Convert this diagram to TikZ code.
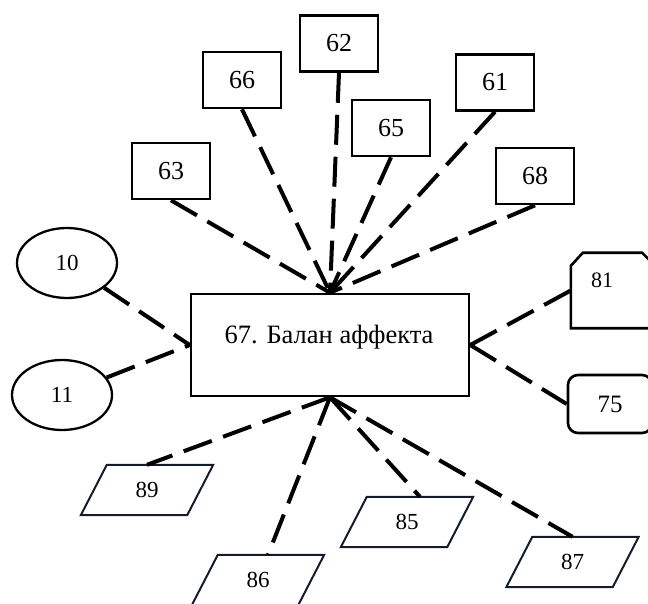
\documentclass[tikz,border=0pt]{standalone}
\usepackage{fontspec}
\setmainfont{Liberation Serif}
\usetikzlibrary{shapes.geometric}
\definecolor{navy}{HTML}{141C2C}
\newcommand\drawpara[1]{\draw[paraline] ([xshift=13pt]#1.north west) -- ([xshift=13pt]#1.north east) -- ([xshift=-13pt]#1.south east) -- ([xshift=-13pt]#1.south west) -- cycle;}
\begin{document}
\begin{tikzpicture}[x=1pt,y=-1pt,
  box/.style={draw, line width=2.6pt, minimum width=78pt, minimum height=56pt, inner sep=0pt, font=\fontsize{26}{26}\selectfont},
  oval/.style={draw, ellipse, line width=2.3pt, minimum width=100pt, minimum height=70pt, inner sep=0pt, font=\fontsize{23}{23}\selectfont},
  paranode/.style={minimum width=106pt, minimum height=50pt, inner sep=0pt, font=\fontsize{23}{23}\selectfont},
  link/.style={line width=4pt, dash pattern=on 30pt off 12pt},
  paraline/.style={line width=2pt, draw=navy, line join=miter}
]
\useasboundingbox (0,0) rectangle (648,604);

% central box
\node[draw, line width=2.6pt, minimum width=278pt, minimum height=102pt, inner sep=0pt] (c) at (330,345) {};
\node[anchor=base, font=\fontsize{26.5}{26.5}\selectfont] (ct) at (329,343) {67. Балан аффекта};

% top boxes
\node[box] (b62) at (339,43.5) {62};
\node[box] (b66) at (242,80) {66};
\node[box] (b63) at (171,171) {63};
\node[box] (b65) at (391,128) {65};
\node[box] (b61) at (495,82.5) {61};
\node[box] (b68) at (535,176) {68};

% ellipses
\node[oval] (e10) at (67,263) {10};
\node[oval] (e11) at (62,395) {11};

% right shapes
\node[minimum width=81pt, minimum height=75pt, inner sep=0pt] (n81) at (611.5,290.5) {};
\draw[line width=2.6pt, line join=miter] (n81.south west) -- ([yshift=-13pt]n81.north west) -- ([xshift=12pt]n81.north west) -- ([xshift=-10pt]n81.north east) -- ([yshift=-10pt]n81.north east) -- (n81.south east) -- cycle;
\node[font=\fontsize{22}{22}\selectfont] (t81) at (602,280.5) {81};
\node[draw, rounded corners=10pt, line width=2.6pt, minimum width=84pt, minimum height=58pt, inner sep=0pt, font=\fontsize{25}{25}\selectfont] (n75) at (610,404) {75};

% parallelograms
\node[paranode] (p89) at (147,490) {89};
\node[paranode] (p86) at (258,580) {86};
\node[paranode] (p85) at (407,522) {85};
\node[paranode] (p87) at (572.5,562) {87};
\drawpara{p89}
\drawpara{p86}
\drawpara{p85}
\drawpara{p87}

% connectors
\draw[link] (b63.south) -- (c.north);
\draw[link] (b66.south) -- (c.north);
\draw[link] (b62.south) -- (c.north);
\draw[link] (b65.south) -- (c.north);
\draw[link] (b61.south) -- (c.north);
\draw[link] (b68.south) -- (c.north);
\draw[link] (e10) -- (c.west);
\draw[link] (e11) -- (c.west);
\draw[link] (c.east) -- (n81.west);
\draw[link] (c.east) -- (n75.west);
\draw[link] (c.south) -- (p89.north);
\draw[link] (c.south) -- ([xshift=10pt]p86.north);
\draw[link] (c.south) -- ([xshift=13pt]p85.north);
\draw[link] (c.south) -- (p87.north);
\end{tikzpicture}
\end{document}
